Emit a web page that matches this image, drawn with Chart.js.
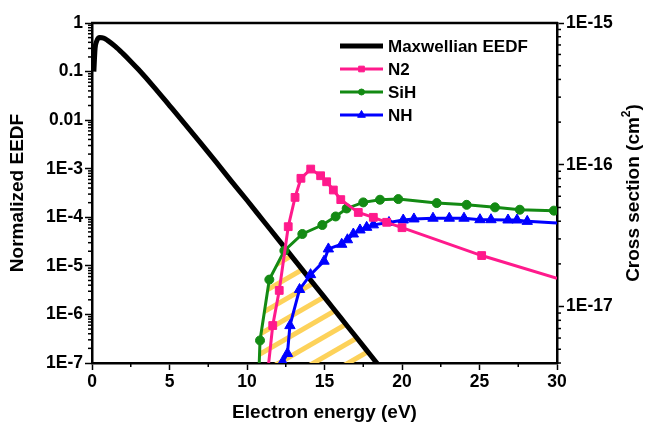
<!DOCTYPE html>
<html>
<head>
<meta charset="utf-8">
<script src="https://cdn.jsdelivr.net/npm/chart.js@4.4.0/dist/chart.umd.min.js"></script>
<style>
html, body { margin: 0; padding: 0; background: #fff; }
</style>
</head>
<body>
<canvas id="eedfChart" width="648" height="428"></canvas>
<script>
// Maxwellian EEDF (left axis)
const energyEEDF = [0.12, 0.2, 0.3, 0.5, 0.75, 1, 1.5, 2, 2.5, 3, 4, 5, 6, 7, 8, 9, 10, 11, 12, 13, 14, 15, 16, 17, 18, 19];
const eedf = [0.1, 0.3, 0.42, 0.5, 0.49, 0.44, 0.33, 0.234, 0.162, 0.11, 0.048, 0.020, 8.3e-3, 3.4e-3, 1.38e-3, 5.5e-4, 2.24e-4, 8.9e-5, 3.55e-5, 1.41e-5, 5.6e-6, 2.24e-6, 8.9e-7, 3.55e-7, 1.41e-7, 5.6e-8];

// cross sections (right axis, cm^2)
const energyN2 = [11.2, 11.66, 12.08, 12.66, 13.1, 13.48, 14.11, 14.75, 15.14, 15.57, 16.05, 17.18, 18.15, 19.01, 20.0, 25.14, 30];
const sigmaN2 = [2.5e-18, 7.35e-18, 1.30e-17, 3.66e-17, 5.89e-17, 8.03e-17, 9.33e-17, 8.37e-17, 7.59e-17, 6.64e-17, 5.68e-17, 4.61e-17, 4.26e-17, 3.93e-17, 3.60e-17, 2.29e-17, 1.58e-17];

const energySiH = [10.75, 10.84, 11.44, 12.41, 13.57, 14.86, 15.72, 16.43, 17.5, 18.58, 19.76, 22.24, 24.17, 26.0, 27.6, 29.8];
const sigmaSiH = [3e-18, 5.77e-18, 1.55e-17, 2.48e-17, 3.25e-17, 3.76e-17, 4.32e-17, 4.92e-17, 5.43e-17, 5.67e-17, 5.73e-17, 5.37e-17, 5.22e-17, 5.01e-17, 4.82e-17, 4.75e-17];

const energyNH = [12.3, 12.61, 12.77, 13.39, 14.1, 14.97, 15.25, 16.11, 16.48, 16.86, 17.29, 17.72, 18.15, 19.16, 20.08, 20.77, 22.0, 23.05, 24.0, 25.03, 25.74, 26.84, 27.42, 28.08, 30];
const sigmaNH = [4.07e-18, 4.67e-18, 7.34e-18, 1.32e-17, 1.68e-17, 2.09e-17, 2.55e-17, 2.75e-17, 2.96e-17, 3.25e-17, 3.47e-17, 3.62e-17, 3.77e-17, 3.92e-17, 4.08e-17, 4.15e-17, 4.20e-17, 4.20e-17, 4.20e-17, 4.10e-17, 4.10e-17, 4.08e-17, 4.08e-17, 3.99e-17, 3.89e-17];

// tick labels
const eedfTicks = [1e-7, 1e-6, 1e-5, 1e-4, 1e-3, 0.01, 0.1, 1];
const eedfTickLabels = ['1E-7', '1E-6', '1E-5', '1E-4', '1E-3', '0.01', '0.1', '1'];
const sigmaTicks = [1e-17, 1e-16, 1e-15];
const sigmaTickLabels = ['1E-17', '1E-16', '1E-15'];

const FONT = '"Liberation Sans", Arial, sans-serif';
const markerSize = { rect: 5.5, circle: 4.5, triangle: 6 };

function pts(xs, ys) {
    return xs.map(function (x, i) { return { x: x, y: ys[i] }; });
}

// no marker on the point sitting on the right axis
function radiusFor(style) {
    return function (ctx) {
        return ctx.raw && ctx.raw.x >= 30 ? 0 : markerSize[style];
    };
}

// yellow hatch under the EEDF and right of the SiH curve
const hatchPlugin = {
    id: 'hatch',
    beforeDatasetsDraw(chart) {
        const ctx = chart.ctx, a = chart.chartArea;
        const black = chart.getDatasetMeta(0).data;
        const green = chart.getDatasetMeta(2).data;
        ctx.save();
        ctx.beginPath();
        ctx.rect(a.left, a.top, a.right - a.left, a.bottom - a.top);
        ctx.clip();
        ctx.beginPath();
        ctx.moveTo(black[0].x, a.bottom + 50);
        black.forEach(p => ctx.lineTo(p.x, p.y));
        ctx.lineTo(black[black.length - 1].x, a.bottom + 50);
        ctx.closePath();
        ctx.clip();
        ctx.beginPath();
        ctx.moveTo(green[0].x, a.bottom + 50);
        green.forEach(p => ctx.lineTo(p.x, p.y));
        ctx.lineTo(green[green.length - 1].x, a.bottom + 50);
        ctx.closePath();
        ctx.clip();
        ctx.strokeStyle = '#FDD25A';
        ctx.lineWidth = 5;
        const k = Math.tan(Math.PI / 6);
        const w = a.right - a.left;
        for (let c = a.top + 8; c < a.bottom + w * k + 20; c += 20) {
            ctx.beginPath();
            ctx.moveTo(a.left, c);
            ctx.lineTo(a.right, c - w * k);
            ctx.stroke();
        }
        ctx.restore();
    }
};

// frame top, minor ticks, right title, legend
const framePlugin = {
    id: 'frame',
    afterDraw(chart) {
        const ctx = chart.ctx, a = chart.chartArea, s = chart.scales;
        ctx.save();
        ctx.strokeStyle = '#000';
        ctx.lineWidth = 2.5;
        ctx.beginPath();
        ctx.moveTo(a.left - 1, a.top);
        ctx.lineTo(a.right + 1, a.top);
        ctx.stroke();

        ctx.lineWidth = 1.5;
        function minorLog(scale, x, dir) {
            const lo = Math.floor(Math.log10(scale.min)), hi = Math.ceil(Math.log10(scale.max));
            for (let e = lo; e < hi; e++) {
                for (let m = 2; m <= 9; m++) {
                    const v = m * Math.pow(10, e);
                    if (v < scale.min || v > scale.max) continue;
                    const y = scale.getPixelForValue(v);
                    ctx.beginPath();
                    ctx.moveTo(x, y);
                    ctx.lineTo(x + dir * 4, y);
                    ctx.stroke();
                }
            }
        }
        minorLog(s.y, a.left, -1);
        minorLog(s.y2, a.right, 1);
        for (let v = 2.5; v < 30; v += 5) {
            const x = s.x.getPixelForValue(v);
            ctx.beginPath();
            ctx.moveTo(x, a.bottom);
            ctx.lineTo(x, a.bottom + 4);
            ctx.stroke();
        }

        // right axis title with superscript
        ctx.fillStyle = '#000';
        ctx.translate(634, (a.top + a.bottom) / 2);
        ctx.rotate(-Math.PI / 2);
        ctx.textBaseline = 'middle';
        const big = 'bold 19px ' + FONT, small = 'bold 12px ' + FONT;
        const t1 = 'Cross section (cm', t2 = '2', t3 = ')';
        ctx.font = big;
        const w1 = ctx.measureText(t1).width, w3 = ctx.measureText(t3).width;
        ctx.font = small;
        const w2 = ctx.measureText(t2).width;
        let x0 = -(w1 + w2 + w3) / 2;
        ctx.textAlign = 'left';
        ctx.font = big;
        ctx.fillText(t1, x0, 0);
        ctx.font = small;
        ctx.fillText(t2, x0 + w1, -7);
        ctx.font = big;
        ctx.fillText(t3, x0 + w1 + w2, 0);
        ctx.restore();

        // legend
        ctx.save();
        chart.data.datasets.forEach(function (ds, i) {
            const y = 46 + i * 23;
            ctx.strokeStyle = ds.borderColor;
            ctx.lineWidth = i === 0 ? 5 : 3;
            ctx.beginPath();
            ctx.moveTo(340, y);
            ctx.lineTo(383, y);
            ctx.stroke();
            if (ds.pointStyle) {
                ctx.fillStyle = ds.backgroundColor;
                ctx.strokeStyle = ds.borderColor;
                ctx.lineWidth = 1;
                Chart.helpers.drawPoint(ctx, {
                    pointStyle: ds.pointStyle, radius: markerSize[ds.pointStyle] - 1.5, rotation: 0, borderWidth: 1
                }, 361.5, y);
            }
            ctx.fillStyle = '#000';
            ctx.font = 'bold 17px ' + FONT;
            ctx.textAlign = 'left';
            ctx.textBaseline = 'middle';
            ctx.fillText(ds.label, 388, y + 1);
        });
        ctx.restore();
    }
};

const tickFont = { family: FONT, size: 17.5, weight: 'bold' };
const titleFont = { family: FONT, size: 19, weight: 'bold' };

new Chart(document.getElementById('eedfChart'), {
    type: 'line',
    data: {
        datasets: [{
            label: 'Maxwellian EEDF',
            data: pts(energyEEDF, eedf),
            yAxisID: 'y',
            order: 10,
            borderColor: '#000',
            backgroundColor: '#000',
            borderWidth: 5,
            pointRadius: 0,
            cubicInterpolationMode: 'monotone'
        }, {
            label: 'N2',
            data: pts(energyN2, sigmaN2),
            yAxisID: 'y2',
            borderColor: '#FF1A8C',
            backgroundColor: '#FF1A8C',
            borderWidth: 3,
            pointStyle: 'rect',
            pointRadius: radiusFor('rect'),
            pointBorderWidth: 1
        }, {
            label: 'SiH',
            data: pts(energySiH, sigmaSiH),
            yAxisID: 'y2',
            borderColor: '#138A13',
            backgroundColor: '#138A13',
            borderWidth: 3,
            pointStyle: 'circle',
            pointRadius: radiusFor('circle'),
            pointBorderWidth: 1
        }, {
            label: 'NH',
            data: pts(energyNH, sigmaNH),
            yAxisID: 'y2',
            borderColor: '#0000FF',
            backgroundColor: '#0000FF',
            borderWidth: 3,
            pointStyle: 'triangle',
            pointRadius: radiusFor('triangle'),
            pointBorderWidth: 1
        }]
    },
    options: {
        responsive: false,
        animation: false,
        events: [],
        layout: { padding: { top: 23, left: 0, right: 0, bottom: 0 } },
        plugins: { legend: { display: false }, tooltip: { enabled: false } },
        scales: {
            x: {
                type: 'linear',
                min: 0,
                max: 30,
                ticks: { stepSize: 5, font: tickFont, color: '#000', padding: 2, maxRotation: 0 },
                grid: { drawOnChartArea: false, tickLength: 7, tickWidth: 1.5, tickColor: '#000' },
                border: { color: '#000', width: 2.5 },
                title: { display: true, text: 'Electron energy (eV)', font: titleFont, color: '#000', padding: { top: 0, bottom: 4 } },
                afterFit(scale) { scale.height = 65; }
            },
            y: {
                type: 'logarithmic',
                position: 'left',
                min: 1e-7,
                max: 1,
                afterBuildTicks(scale) { scale.ticks = eedfTicks.map(v => ({ value: v })); },
                ticks: { font: tickFont, color: '#000', padding: 2, callback: (v, i) => eedfTickLabels[i] },
                grid: { drawOnChartArea: false, tickLength: 7, tickWidth: 1.5, tickColor: '#000' },
                border: { color: '#000', width: 2.5 },
                title: { display: true, text: 'Normalized EEDF', font: titleFont, color: '#000', padding: { top: 6, bottom: 0 } },
                afterFit(scale) { scale.width = 92; }
            },
            y2: {
                type: 'logarithmic',
                position: 'right',
                min: 4e-18,
                max: 1e-15,
                afterBuildTicks(scale) { scale.ticks = sigmaTicks.map(v => ({ value: v })); },
                ticks: { font: tickFont, color: '#000', padding: 2, callback: (v, i) => sigmaTickLabels[i] },
                grid: { drawOnChartArea: false, tickLength: 7, tickWidth: 1.5, tickColor: '#000' },
                border: { color: '#000', width: 2.5 },
                afterFit(scale) { scale.width = 91; }
            }
        }
    },
    plugins: [hatchPlugin, framePlugin]
});
</script>
</body>
</html>
